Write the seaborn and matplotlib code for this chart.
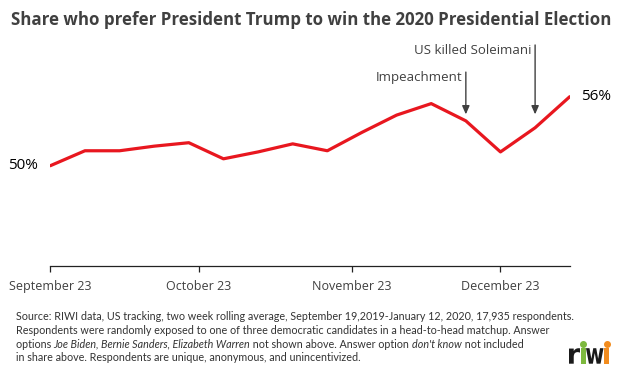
import numpy as np
import pandas as pd
import matplotlib
matplotlib.use("Agg")
import matplotlib.pyplot as plt
import matplotlib.dates as mdates
from matplotlib.textpath import TextPath
from matplotlib.font_manager import FontProperties
from matplotlib.patches import PathPatch
from matplotlib.transforms import Affine2D
from matplotlib.lines import Line2D
import seaborn as sns

# weekly points, two week rolling average
dates = ["2019-09-23", "2019-09-30", "2019-10-07", "2019-10-14", "2019-10-21",
         "2019-10-28", "2019-11-04", "2019-11-11", "2019-11-18", "2019-11-25",
         "2019-12-02", "2019-12-09", "2019-12-16", "2019-12-23", "2019-12-30",
         "2020-01-06"]
share = [50.0, 51.3, 51.3, 51.7, 52.0, 50.6, 51.2, 51.9, 51.3, 52.9,
         54.4, 55.4, 53.9, 51.2, 53.3, 56.0]

tick_dates = ["2019-09-23", "2019-10-23", "2019-11-23", "2019-12-23"]
tick_labels = ["September 23", "October 23", "November 23", "December 23"]

events = ["Impeachment", "US killed Soleimani"]
event_dates = ["2019-12-16", "2019-12-30"]

df = pd.DataFrame({"date": pd.to_datetime(dates), "share": share})

sns.set_style("white")
plt.rcParams["font.family"] = ["Open Sans", "DejaVu Sans"]

grey = "#404040"
red = "#E8171F"

fig = plt.figure(figsize=(6.18, 3.69), dpi=100)
ax = fig.add_axes([0.0814, 0.2791, 0.8405, 0.6125])

sns.lineplot(data=df, x="date", y="share", color=red, linewidth=2.3, ax=ax)

ax.set_xlim(df["date"].iloc[0], df["date"].iloc[-1])
ax.set_ylim(41.28, 60.93)
ax.set_xlabel("")
ax.set_ylabel("")
ax.set_yticks([])
ax.set_xticks(pd.to_datetime(tick_dates))
ax.set_xticklabels(tick_labels, fontsize=9, color=grey)
ax.tick_params(axis="x", bottom=True, direction="out", length=4, width=0.9,
               color="#222222", pad=6)
sns.despine(ax=ax, left=True, top=True, right=True)
ax.spines["bottom"].set_color("#222222")
ax.spines["bottom"].set_linewidth(0.9)

# end labels
ax.annotate(f"{share[0]:.0f}%", xy=(df["date"].iloc[0], share[0]), xytext=(-9, 0),
            textcoords="offset points", ha="right", va="center", fontsize=11, color="black")
ax.annotate(f"{share[-1]:.0f}%", xy=(df["date"].iloc[-1], share[-1]), xytext=(8, 0),
            textcoords="offset points", ha="left", va="center", fontsize=11, color="black")

# event arrows
tops = [0.858, 0.978]
trans = ax.get_xaxis_transform()
for name, d, top in zip(events, event_dates, tops):
    x = mdates.date2num(pd.to_datetime(d))
    ax.annotate("", xy=(x, 0.671), xytext=(x, top), xycoords=trans, textcoords=trans,
                arrowprops=dict(arrowstyle="-|>,head_length=0.5,head_width=0.22",
                                color=grey, lw=1, shrinkA=0, shrinkB=0),
                annotation_clip=False)
    ax.annotate(name, xy=(x, top), xycoords=trans, xytext=(-2.5, -4),
                textcoords="offset points", ha="right", va="center",
                fontsize=9.5, color=grey, annotation_clip=False)

fig.text(0.017, 0.945, "Share who prefer President Trump to win the 2020 Presidential Election",
         fontsize=12.2, fontweight="bold", color=grey, va="center")

# footnote with italic pieces
renderer = fig.canvas.get_renderer()
foot_size = 7.75
lines = [
    [("Source: RIWI data, US tracking, two week rolling average, September 19,2019-January 12, 2020, 17,935 respondents.", "normal")],
    [("Respondents were randomly exposed to one of three democratic candidates in a head-to-head matchup. Answer", "normal")],
    [("options ", "normal"), ("Joe Biden, Bernie Sanders, Elizabeth Warren", "italic"),
     (" not shown above. Answer option ", "normal"), ("don't know", "italic"), (" not included", "normal")],
    [("in share above. Respondents are unique, anonymous, and unincentivized.", "normal")],
]
for i, parts in enumerate(lines):
    x = 15.5
    y = 369 - (317 + i * 13.6)
    for txt, style in parts:
        t = fig.text(x / 618, y / 369, txt, fontsize=foot_size, fontstyle=style,
                     color="#333333", va="center", ha="left", family=["Lato", "DejaVu Sans"])
        bb = t.get_window_extent(renderer)
        x = bb.x1

# riwi logo, drawn as squeezed glyph outlines (pixel coords, origin bottom left)
fp = FontProperties(family="DejaVu Sans", weight="bold")
letters = [("r", "#1a1a1a", 569, 11), ("ı", "#7DB93E", 580.5, 5),
           ("w", "#1a1a1a", 586, 17.5), ("ı", "#F28C1E", 604, 5)]
for ch, col, left, width in letters:
    path = TextPath((0, 0), ch, size=30, prop=fp)
    ext = path.get_extents()
    sx = width / ext.width
    sy = 15.5 / ext.height
    tr = Affine2D().translate(-ext.x0, -ext.y0).scale(sx, sy).translate(left, 369 - 363.7)
    fig.add_artist(PathPatch(path, transform=tr, facecolor=col, edgecolor="none"))
    if ch == "ı":
        fig.add_artist(Line2D([(left + width / 2) / 618], [(369 - 343.7) / 369],
                              marker="o", markersize=4, color=col, linestyle="none",
                              transform=fig.transFigure))

fig.savefig("out.png", dpi=100)
